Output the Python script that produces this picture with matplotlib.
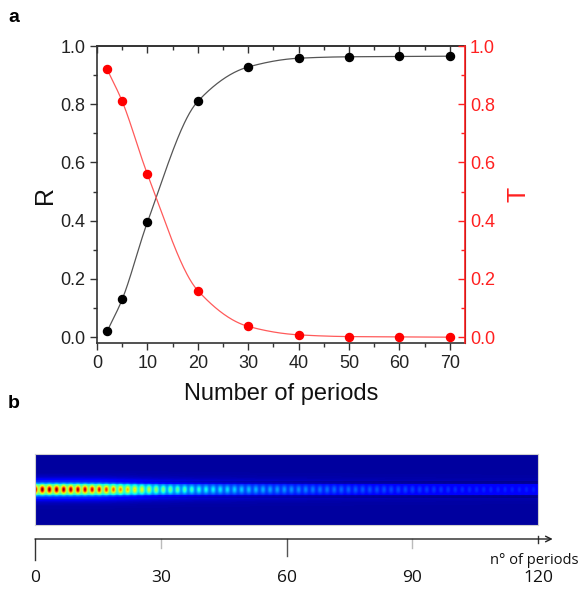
import numpy as np
import matplotlib
matplotlib.use("Agg")
import matplotlib.pyplot as plt

# panel a data
periods = [2, 5, 10, 20, 30, 40, 50, 60, 70]
R_vals = [0.02, 0.13, 0.395, 0.81, 0.928, 0.958, 0.963, 0.964, 0.965]
T_vals = [0.92, 0.81, 0.56, 0.16, 0.037, 0.008, 0.002, 0.001, 0.0]

# panel b: peak field intensity read along the guide (colour level, 0..1)
env_periods = [0, 5, 10, 15, 20, 25, 30, 40, 50, 60, 70, 80, 90, 100, 110, 120]
env_levels = [1.0, 0.98, 0.95, 0.9, 0.75, 0.6, 0.46, 0.33, 0.26, 0.21, 0.17,
              0.14, 0.12, 0.10, 0.09, 0.085]
scale_ticks = [0, 30, 60, 90, 120]


def pchip(x, y, xs):
    x = np.asarray(x, float)
    y = np.asarray(y, float)
    h = np.diff(x)
    d = np.diff(y) / h
    m = np.zeros_like(y)
    for k in range(1, len(x) - 1):
        if d[k - 1] * d[k] > 0:
            w1 = 2 * h[k] + h[k - 1]
            w2 = h[k] + 2 * h[k - 1]
            m[k] = (w1 + w2) / (w1 / d[k - 1] + w2 / d[k])
    m[0] = d[0]
    m[-1] = d[-1]
    idx = np.clip(np.searchsorted(x, xs) - 1, 0, len(x) - 2)
    t = (xs - x[idx]) / h[idx]
    h00 = 2 * t**3 - 3 * t**2 + 1
    h10 = t**3 - 2 * t**2 + t
    h01 = -2 * t**3 + 3 * t**2
    h11 = t**3 - t**2
    return (h00 * y[idx] + h10 * h[idx] * m[idx] + h01 * y[idx + 1]
            + h11 * h[idx] * m[idx + 1])


plt.rcParams["font.family"] = ["Liberation Sans", "DejaVu Sans"]

fig = plt.figure(figsize=(5.79, 5.90), dpi=100)
W, H = 579, 590


def box(x0, y0, x1, y1):
    return [x0 / W, 1 - y1 / H, (x1 - x0) / W, (y1 - y0) / H]


fmt = matplotlib.ticker.FormatStrFormatter("%.1f")

# ---- panel a ----
ax = fig.add_axes(box(97, 46, 465, 343))
ax2 = ax.twinx()
xs = np.linspace(periods[0], periods[-1], 400)
ax.plot(xs, pchip(periods, R_vals, xs), color="#555555", lw=0.9)
ax.plot(periods, R_vals, "o", color="black", ms=5.8)
ax2.plot(xs, pchip(periods, T_vals, xs), color="#ff5a5a", lw=0.9)
ax2.plot(periods, T_vals, "o", color="#ff0000", ms=5.8)

ax.set_xlim(0, 73)
ax.set_ylim(-0.02, 1.0)
ax2.set_ylim(-0.02, 1.0)
ax.set_xticks(range(0, 71, 10))
ax.set_xticks(range(5, 71, 10), minor=True)
for a in (ax, ax2):
    a.set_yticks(np.arange(0, 1.01, 0.2))
    a.set_yticks(np.arange(0.1, 1.0, 0.2), minor=True)
    a.yaxis.set_major_formatter(fmt)

ax.tick_params(axis="both", which="both", labelsize=13, width=1, color="#333333",
               labelcolor="#222222", direction="out")
ax.tick_params(which="major", length=5)
ax.tick_params(which="minor", length=3)
ax2.tick_params(axis="y", which="both", direction="in", colors="#ff2020",
                labelsize=13, width=1)
ax2.tick_params(which="major", length=5)
ax2.tick_params(which="minor", length=3)

# top axis: ticks pointing inside, no labels
top = ax.secondary_xaxis("top")
top.set_xticks(range(0, 71, 10))
top.set_xticks(range(5, 71, 10), minor=True)
top.tick_params(which="both", direction="in", labeltop=False, color="#333333", width=1)
top.tick_params(which="major", length=5)
top.tick_params(which="minor", length=3)
top.spines["top"].set_color("#333333")
top.spines["top"].set_linewidth(1.2)

for s in ["left", "bottom", "top"]:
    ax.spines[s].set_color("#333333")
    ax.spines[s].set_linewidth(1.2)
ax2.spines["right"].set_color("#ff2020")
ax2.spines["right"].set_linewidth(1.2)
for s in ["left", "bottom", "top"]:
    ax2.spines[s].set_visible(False)

ax.set_xlabel("Number of periods", fontsize=17, color="#111111", labelpad=8)
ax.set_ylabel("R", fontsize=18, color="#111111", labelpad=2)
ax2.set_ylabel("T", fontsize=18, color="#ff2020", labelpad=8)

fig.text(8 / W, 1 - 22 / H, "a", fontsize=14, fontweight="bold")
fig.text(8 / W, 1 - 408 / H, "b", fontsize=14, fontweight="bold")

# ---- panel b heatmap ----
hx = fig.add_axes(box(35, 454, 538, 525))
nx, ny = 1200, 71
px = np.linspace(0, 120, nx)
py = np.linspace(-35, 35, ny)
PX, PY = np.meshgrid(px, py)
env = np.interp(px, env_periods, env_levels)[None, :]
bg = np.full_like(PY, 0.03)
bg[np.abs(PY) < 6] = 0.075
bg[(np.abs(PY) >= 6) & (np.abs(PY) < 9)] = 0.0
core = np.exp(-(PY / 3.8) ** 2)
halo = np.exp(-(PY / 8.0) ** 2)
spot = np.cos(np.pi * PX / 1.7) ** 2
field = bg + env * core * (0.5 + 0.5 * spot) * 0.95 + env * 0.45 * halo * (1 - core)
field = np.clip(field, 0, 1)
hx.imshow(field, cmap="jet", vmin=0, vmax=1, aspect="auto",
          extent=[0, 120, -35, 35], interpolation="bilinear")
hx.set_xticks([])
hx.set_yticks([])
for s in hx.spines.values():
    s.set_color("#d0d0d0")
    s.set_linewidth(0.8)

# ---- panel b scale ----
sx = fig.add_axes(box(35, 530, 538, 590))
sx.set_xlim(0, 120)
sx.set_ylim(60, 0)
sx.axis("off")
sx.annotate("", xy=(123.5, 9), xytext=(0, 9), xycoords="data",
            arrowprops=dict(arrowstyle="->", color="#222222", lw=1.0,
                            shrinkA=0, shrinkB=0), annotation_clip=False)
tick_len = {0: 21, 30: 9, 60: 17, 90: 9, 120: 4}
tick_col = {0: "#333333", 30: "#bbbbbb", 60: "#555555", 90: "#bbbbbb", 120: "#333333"}
for v in scale_ticks:
    y0 = 6 if v == 120 else 9
    sx.plot([v, v], [y0, 9 + tick_len[v]], color=tick_col[v], lw=1.0, clip_on=False)
    sx.text(v, 48, str(v), ha="center", va="center", fontsize=12.5,
            family=["Open Sans", "DejaVu Sans"], color="#111111")
fig.text(579 / W, 1 - 560 / H, "n\u00b0 of periods", ha="right", va="center",
         fontsize=10.5, family=["Open Sans", "DejaVu Sans"], color="#111111")

fig.savefig("out.png", dpi=100)
